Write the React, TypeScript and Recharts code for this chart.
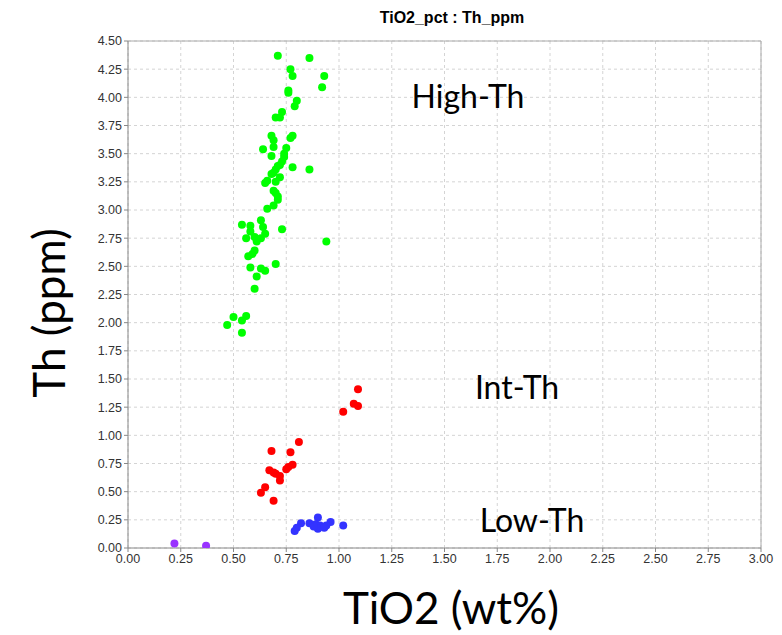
import React from 'react';
import { ScatterChart, Scatter, XAxis, YAxis, CartesianGrid, ReferenceLine } from 'recharts';

const titleText = 'TiO2_pct : Th_ppm';
const xLabel = 'TiO2 (wt%)';
const yLabel = 'Th (ppm)';

const xTicks = [0, 0.25, 0.5, 0.75, 1, 1.25, 1.5, 1.75, 2, 2.25, 2.5, 2.75, 3];
const yTicks = [0, 0.25, 0.5, 0.75, 1, 1.25, 1.5, 1.75, 2, 2.25, 2.5, 2.75, 3, 3.25, 3.5, 3.75, 4, 4.25, 4.5];

const highTh = [
  { x: 0.71, y: 4.37 }, { x: 0.86, y: 4.35 }, { x: 0.77, y: 4.25 }, { x: 0.78, y: 4.19 },
  { x: 0.93, y: 4.19 }, { x: 0.92, y: 4.09 }, { x: 0.76, y: 4.06 }, { x: 0.76, y: 4.04 },
  { x: 0.8, y: 3.97 }, { x: 0.79, y: 3.92 }, { x: 0.73, y: 3.87 }, { x: 0.7, y: 3.82 },
  { x: 0.72, y: 3.82 }, { x: 0.68, y: 3.66 }, { x: 0.78, y: 3.66 }, { x: 0.77, y: 3.64 },
  { x: 0.69, y: 3.62 }, { x: 0.69, y: 3.56 }, { x: 0.64, y: 3.54 }, { x: 0.75, y: 3.55 },
  { x: 0.74, y: 3.5 }, { x: 0.68, y: 3.48 }, { x: 0.74, y: 3.47 }, { x: 0.73, y: 3.43 },
  { x: 0.72, y: 3.4 }, { x: 0.71, y: 3.39 }, { x: 0.78, y: 3.38 }, { x: 0.86, y: 3.36 },
  { x: 0.7, y: 3.36 }, { x: 0.69, y: 3.33 }, { x: 0.68, y: 3.32 }, { x: 0.72, y: 3.29 },
  { x: 0.66, y: 3.26 }, { x: 0.65, y: 3.24 }, { x: 0.7, y: 3.25 }, { x: 0.69, y: 3.17 },
  { x: 0.7, y: 3.15 }, { x: 0.71, y: 3.12 }, { x: 0.71, y: 3.09 }, { x: 0.69, y: 3.04 },
  { x: 0.66, y: 3.01 }, { x: 0.63, y: 2.91 }, { x: 0.54, y: 2.87 }, { x: 0.58, y: 2.86 },
  { x: 0.64, y: 2.85 }, { x: 0.73, y: 2.83 }, { x: 0.58, y: 2.81 }, { x: 0.65, y: 2.79 },
  { x: 0.56, y: 2.75 }, { x: 0.6, y: 2.76 }, { x: 0.63, y: 2.75 }, { x: 0.61, y: 2.72 },
  { x: 0.94, y: 2.72 }, { x: 0.6, y: 2.64 }, { x: 0.59, y: 2.61 }, { x: 0.57, y: 2.59 },
  { x: 0.7, y: 2.52 }, { x: 0.58, y: 2.49 }, { x: 0.63, y: 2.48 }, { x: 0.65, y: 2.46 },
  { x: 0.61, y: 2.41 }, { x: 0.6, y: 2.3 }, { x: 0.5, y: 2.05 }, { x: 0.56, y: 2.06 },
  { x: 0.54, y: 2.02 }, { x: 0.47, y: 1.98 }, { x: 0.54, y: 1.91 },
];

const intTh = [
  { x: 1.09, y: 1.41 }, { x: 1.07, y: 1.28 }, { x: 1.09, y: 1.26 }, { x: 1.02, y: 1.21 },
  { x: 0.81, y: 0.94 }, { x: 0.68, y: 0.86 }, { x: 0.77, y: 0.85 }, { x: 0.78, y: 0.74 },
  { x: 0.76, y: 0.72 }, { x: 0.75, y: 0.7 }, { x: 0.67, y: 0.69 }, { x: 0.69, y: 0.67 },
  { x: 0.7, y: 0.66 }, { x: 0.72, y: 0.64 }, { x: 0.72, y: 0.6 }, { x: 0.65, y: 0.54 },
  { x: 0.63, y: 0.49 }, { x: 0.69, y: 0.42 },
];

const lowTh = [
  { x: 0.9, y: 0.27 }, { x: 0.82, y: 0.22 }, { x: 0.86, y: 0.22 }, { x: 0.96, y: 0.23 },
  { x: 0.89, y: 0.21 }, { x: 0.91, y: 0.2 }, { x: 0.94, y: 0.2 }, { x: 1.02, y: 0.2 },
  { x: 0.8, y: 0.18 }, { x: 0.79, y: 0.15 }, { x: 0.9, y: 0.17 }, { x: 0.93, y: 0.18 },
  { x: 0.88, y: 0.19 },
];

const veryLowTh = [
  { x: 0.22, y: 0.04 }, { x: 0.37, y: 0.02 },
];

const dot = (color: string) => (p: any) => (
  <circle cx={p.cx} cy={p.cy} r={4} fill={color} stroke="none" />
);

const fmt = (v: number) => v.toFixed(2);

const abs = (x: number, y: number, extra: React.CSSProperties): React.CSSProperties => ({
  position: 'absolute',
  left: x,
  top: y,
  transform: 'translate(-50%, -50%)',
  whiteSpace: 'nowrap',
  lineHeight: 1,
  color: '#000',
  ...extra,
});

export default function App() {
  return (
    <div style={{ position: 'absolute', left: 0, top: 0, width: 782, height: 635, background: '#fff' }}>
      <ScatterChart width={782} height={635} margin={{ top: 41, right: 21, bottom: 57, left: 78 }}>
        <CartesianGrid stroke="#d4d4d4" strokeDasharray="3 3" horizontalValues={yTicks} verticalValues={xTicks} />
        <XAxis
          type="number"
          dataKey="x"
          domain={[0, 3]}
          ticks={xTicks}
          tickFormatter={fmt}
          height={30}
          stroke="#888"
          tickSize={4}
          tick={{ fontSize: 12.5, fill: '#333', fontFamily: 'Liberation Sans, Arial, sans-serif' }}
          allowDataOverflow
        />
        <YAxis
          type="number"
          dataKey="y"
          domain={[0, 4.5]}
          ticks={yTicks}
          tickFormatter={fmt}
          width={50}
          stroke="#888"
          tickSize={4}
          tick={{ fontSize: 12.5, fill: '#333', fontFamily: 'Liberation Sans, Arial, sans-serif' }}
          allowDataOverflow
        />
        <ReferenceLine y={4.5} stroke="#aaa" />
        <ReferenceLine x={3} stroke="#aaa" />
        <Scatter data={highTh} fill="#00ff00" shape={dot('#00ff00')} isAnimationActive={false} />
        <Scatter data={intTh} fill="#ff0000" shape={dot('#ff0000')} isAnimationActive={false} />
        <Scatter data={lowTh} fill="#3333ff" shape={dot('#3333ff')} isAnimationActive={false} />
        <Scatter data={veryLowTh} fill="#9933ff" shape={dot('#9933ff')} isAnimationActive={false} />
      </ScatterChart>
      <div style={abs(452, 18, { fontFamily: 'Liberation Sans, Arial, sans-serif', fontWeight: 'bold', fontSize: 16 })}>
        {titleText}
      </div>
      <div style={abs(468, 96, { fontFamily: 'Lato, sans-serif', fontSize: 32 })}>High-Th</div>
      <div style={abs(517, 387, { fontFamily: 'Lato, sans-serif', fontSize: 32 })}>Int-Th</div>
      <div style={abs(532, 520, { fontFamily: 'Lato, sans-serif', fontSize: 32 })}>Low-Th</div>
      <div style={abs(451, 607, { fontFamily: 'Lato, sans-serif', fontSize: 44 })}>{xLabel}</div>
      <div style={abs(48, 313, { fontFamily: 'Lato, sans-serif', fontSize: 44, transform: 'translate(-50%, -50%) rotate(-90deg)' })}>
        {yLabel}
      </div>
    </div>
  );
}
